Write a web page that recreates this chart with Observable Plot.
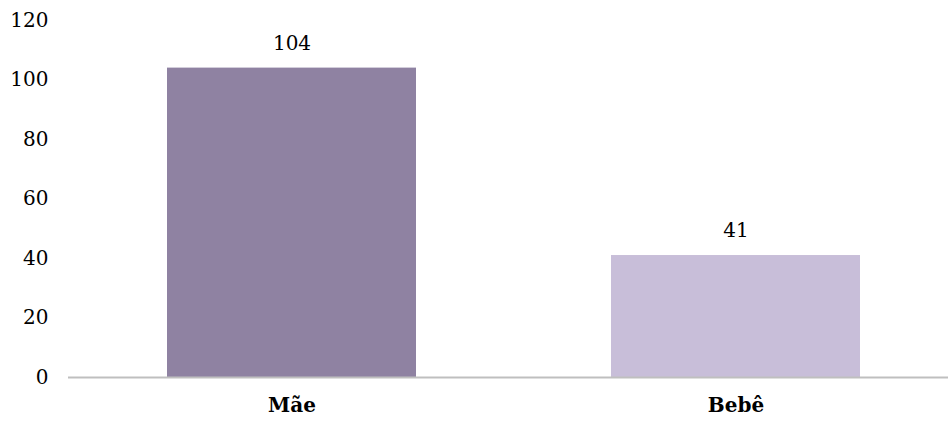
<!DOCTYPE html>
<html>
<head>
<meta charset="utf-8">
<script src="https://cdn.jsdelivr.net/npm/d3@7"></script>
<script src="https://cdn.jsdelivr.net/npm/@observablehq/plot@0.6"></script>
<style>
  html, body { margin: 0; padding: 0; background: #fff; }
  #chart svg { display: block; }
  #chart svg, #chart svg text { font-family: "DejaVu Serif", serif !important; }
</style>
</head>
<body>
<div id="chart"></div>
<script>
const categories = ["Mãe", "Bebê"];
const values = [104, 41];
const barColors = ["#8f82a2", "#c8bed9"];
const yTicks = [0, 20, 40, 60, 80, 100, 120];

const data = categories.map((c, i) => ({category: c, value: values[i], color: barColors[i]}));

const chart = Plot.plot({
  width: 948,
  height: 421,
  marginTop: 20,
  marginBottom: 44,
  marginLeft: 68,
  marginRight: 0,
  style: {background: "#fff", color: "#000"},
  x: {domain: categories, range: [69, 957], paddingInner: 0.44, paddingOuter: 0.22, align: 0.5, label: null},
  y: {domain: [0, 120], label: null},
  marks: [
    Plot.barY(data, {x: "category", y: "value", fill: "color"}),
    Plot.ruleY([0], {stroke: "#bfbfbf", strokeWidth: 2}),
    Plot.text(data, {x: "category", y: "value", text: d => String(d.value), dy: -25, fontSize: 20, fill: "#000"}),
    Plot.axisY({ticks: yTicks, tickSize: 0, tickPadding: 20, fontSize: 20, label: null, textAnchor: "end"}),
    Plot.axisX({tickSize: 0, tickPadding: 20, fontSize: 20, fontWeight: "bold", label: null})
  ]
});
document.getElementById("chart").appendChild(chart);
</script>
</body>
</html>
